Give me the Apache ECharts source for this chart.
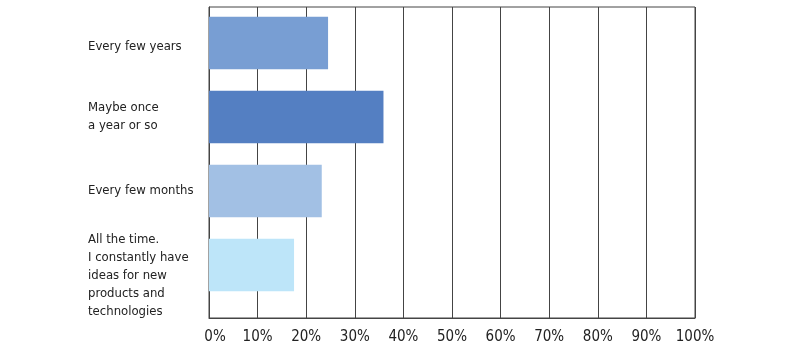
<!DOCTYPE html>
<html>
<head>
<meta charset="utf-8">
<script src="https://cdn.jsdelivr.net/npm/echarts@6/dist/echarts.min.js"></script>
<style>
  html, body { margin: 0; padding: 0; background: #fff }
  #chart { width: 800px; height: 351px }
</style>
</head>
<body>
<div id="chart"></div>
<script>
const categories = [
  'Every few years',
  'Maybe once\na year or so',
  'Every few months',
  'All the time.\nI constantly have\nideas for new\nproducts and\ntechnologies'
]
const values = [24.5, 35.9, 23.2, 17.5]
const barColors = ['#789ed3', '#547fc2', '#a2c0e4', '#bde5f9']

const font = '"DejaVu Sans Condensed", "Liberation Sans Narrow", sans-serif'
const txt = { fontFamily: font, color: '#222' }

// grid 0 draws the frame, grid lines and tick labels; grid 1 holds the bars
const chart = echarts.init(document.getElementById('chart'))
chart.setOption({
  animation: false,
  grid: [
    { left: 209, right: 105, top: 7, bottom: 33, show: true, borderColor: '#444', borderWidth: 1 },
    { left: 209, right: 105, top: 6, bottom: 49 }
  ],
  xAxis: [
    {
      gridIndex: 0,
      type: 'value',
      min: 0,
      max: 100,
      interval: 10,
      axisLine: { show: true, lineStyle: { color: '#444' } },
      axisTick: { show: false },
      splitLine: { lineStyle: { color: '#444', width: 1 } },
      axisLabel: {
        ...txt, fontSize: 15, margin: 12,
        showMinLabel: true, showMaxLabel: true, hideOverlap: false,
        formatter: v => v === 0 ? '{l|0%}' : v + '%',
        rich: {
          l: { ...txt, fontSize: 15, padding: [0, 0, 0, 12] }
        }
      }
    },
    { gridIndex: 1, type: 'value', min: 0, max: 100, show: false }
  ],
  yAxis: [
    {
      gridIndex: 0,
      type: 'value',
      min: 0,
      max: 1,
      axisLine: { show: true, lineStyle: { color: '#444' } },
      axisTick: { show: false },
      axisLabel: { show: false },
      splitLine: { show: false }
    },
    {
      gridIndex: 1,
      type: 'category',
      inverse: true,
      data: categories,
      axisLine: { show: false },
      axisTick: { show: false },
      axisLabel: {
        ...txt, align: 'left', margin: 121, fontSize: 13, lineHeight: 18,
        formatter: (v, i) => {
          if (i === 0) return '{a|' + v + '}'
          if (i === 3) return '{s| }\n' + v
          return v
        },
        rich: {
          a: { ...txt, fontSize: 13, lineHeight: 18, padding: [8, 0, 0, 0] },
          s: { ...txt, fontSize: 13, lineHeight: 22 }
        }
      }
    }
  ],
  series: [{
    type: 'bar',
    xAxisIndex: 1,
    yAxisIndex: 1,
    barWidth: '71%',
    data: values.map((v, i) => ({ value: v, itemStyle: { color: barColors[i] } }))
  }]
})
</script>
</body>
</html>
